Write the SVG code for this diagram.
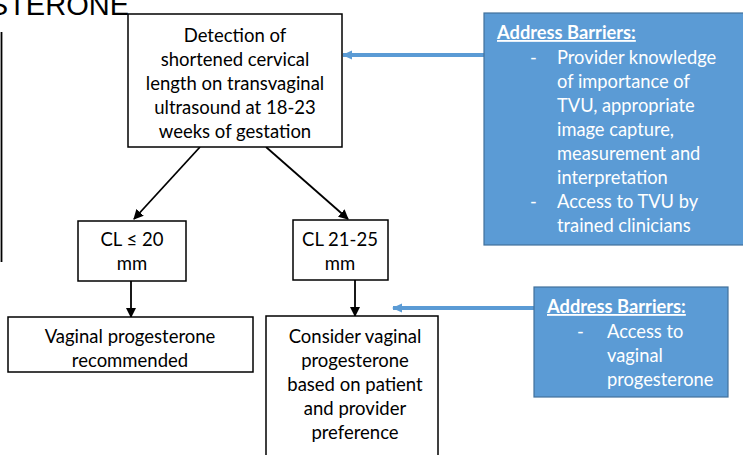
<svg xmlns="http://www.w3.org/2000/svg" width="743" height="455" viewBox="0 0 743 455">
<defs>
<marker id="ah" markerWidth="10" markerHeight="10" refX="9" refY="5" orient="auto" markerUnits="userSpaceOnUse">
<path d="M0,0 L10,5 L0,10 z" fill="#000"/>
</marker>
<marker id="bh" markerWidth="10" markerHeight="10" refX="9" refY="5" orient="auto" markerUnits="userSpaceOnUse">
<path d="M0,0.5 L10,5 L0,9.5 z" fill="#5B9BD5"/>
</marker>
<style>
.box{fill:#fff;stroke:#000;stroke-width:1.5}
.blue{fill:#5B9BD5;stroke:#41719C;stroke-width:1.2}
.t{font-family:Lato,"Open Sans","Liberation Sans",sans-serif;font-size:18.5px;fill:#000;text-anchor:middle}
.w{font-family:Lato,"Open Sans","Liberation Sans",sans-serif;font-size:18.3px;fill:#fff}
.h{font-weight:bold;text-decoration:underline}
.conn{stroke:#000;stroke-width:1.8;fill:none}
.bconn{stroke:#5B9BD5;stroke-width:4;fill:none}
</style>
</defs>
<rect width="743" height="455" fill="#fff"/>
<text x="129" y="15" font-family="'Liberation Sans',sans-serif" font-size="29" text-anchor="end" fill="#000">STERONE</text>
<line x1="1.5" y1="32" x2="1.5" y2="262" stroke="#000" stroke-width="1.8"/>

<g id="connectors">
<line class="conn" x1="200" y1="147" x2="134" y2="219" marker-end="url(#ah)"/>
<line class="conn" x1="266" y1="147" x2="348" y2="219" marker-end="url(#ah)"/>
<line class="conn" x1="131" y1="281" x2="131" y2="317" marker-end="url(#ah)"/>
<line class="conn" x1="355" y1="280" x2="355" y2="316" marker-end="url(#ah)"/>
<line class="bconn" x1="484" y1="55" x2="343" y2="55" marker-end="url(#bh)"/>
<line class="bconn" x1="534" y1="308" x2="393" y2="308" marker-end="url(#bh)"/>
</g>

<g id="n-detection">
<rect class="box" x="128" y="14" width="214" height="133"/>
<text class="t" x="235" y="42">Detection of</text>
<text class="t" x="235" y="66">shortened cervical</text>
<text class="t" x="235" y="90">length on transvaginal</text>
<text class="t" x="235" y="114">ultrasound at 18-23</text>
<text class="t" x="235" y="138">weeks of gestation</text>
</g>

<g id="n-cl20">
<rect class="box" x="78" y="221" width="108" height="60"/>
<text class="t" x="132" y="246">CL ≤ 20</text>
<text class="t" x="132" y="270">mm</text>
</g>

<g id="n-cl2125">
<rect class="box" x="293" y="220" width="95" height="60"/>
<text class="t" x="340" y="246">CL 21-25</text>
<text class="t" x="340" y="270">mm</text>
</g>

<g id="n-recommended">
<rect class="box" x="8" y="317" width="245" height="55"/>
<text class="t" x="130" y="343">Vaginal progesterone</text>
<text class="t" x="130" y="367">recommended</text>
</g>

<g id="n-consider">
<rect class="box" x="266" y="316" width="172" height="145"/>
<text class="t" x="355" y="343">Consider vaginal</text>
<text class="t" x="355" y="367">progesterone</text>
<text class="t" x="355" y="391">based on patient</text>
<text class="t" x="355" y="415">and provider</text>
<text class="t" x="355" y="439">preference</text>
</g>

<g id="n-barriers1">
<rect class="blue" x="484" y="13" width="262" height="232"/>
<text class="w h" x="497" y="39">Address Barriers:</text>
<text class="w" x="530" y="64">-</text>
<text class="w" x="557" y="64">Provider knowledge</text>
<text class="w" x="557" y="88">of importance of</text>
<text class="w" x="557" y="112">TVU, appropriate</text>
<text class="w" x="557" y="136">image capture,</text>
<text class="w" x="557" y="160">measurement and</text>
<text class="w" x="557" y="184">interpretation</text>
<text class="w" x="530" y="208">-</text>
<text class="w" x="557" y="208">Access to TVU by</text>
<text class="w" x="557" y="232">trained clinicians</text>
</g>

<g id="n-barriers2">
<rect class="blue" x="534" y="287" width="194" height="110"/>
<text class="w h" x="547" y="313">Address Barriers:</text>
<text class="w" x="577" y="338">-</text>
<text class="w" x="607" y="338">Access to</text>
<text class="w" x="607" y="362">vaginal</text>
<text class="w" x="607" y="386">progesterone</text>
</g>
</svg>
